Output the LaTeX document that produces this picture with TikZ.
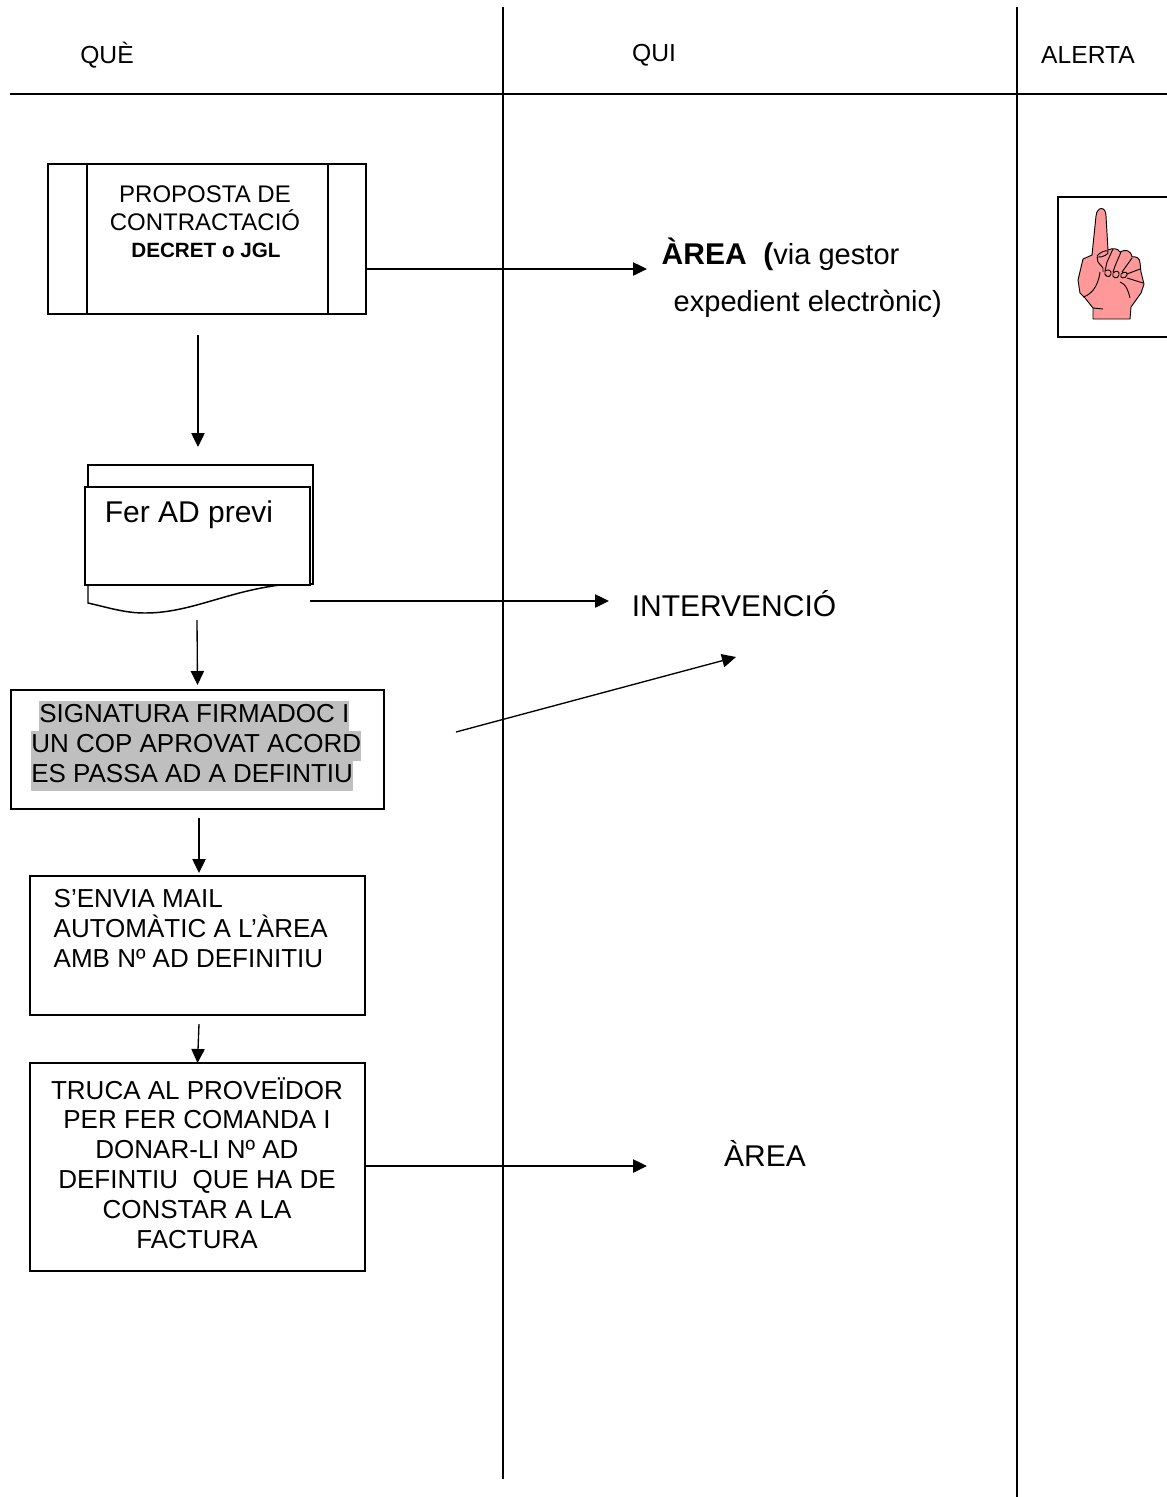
\documentclass[tikz,border=0pt]{standalone}
\usepackage{fontspec}
\setmainfont{Liberation Sans}
\usetikzlibrary{arrows.meta}
\definecolor{handpink}{rgb}{1,0.6,0.6}
\definecolor{markgray}{rgb}{0.75,0.75,0.75}
\tikzset{
  rule/.style={line width=1.3pt},
  boxnode/.style={draw,line width=1.1pt,inner sep=0pt,outer sep=0pt},
  arr/.style={line width=1pt,-{Triangle[length=10.5pt,width=10pt]}},
  markline/.style={anchor=west,fill=markgray,inner sep=0pt,text height=16pt,text depth=6.5pt,font=\fontsize{19.5}{22}\selectfont},
  head/.style={font=\fontsize{18.5}{22}\selectfont},
  steptext/.style={font=\fontsize{19.5}{22.4}\selectfont,align=center},
  bigtext/.style={font=\fontsize{22.5}{26}\selectfont}
}
\begin{document}
\begin{tikzpicture}[x=0.75pt,y=0.75pt,yscale=-1,xscale=1]
\useasboundingbox (0,0) rectangle (1167,1497);

%Straight Lines: table rules
\coordinate (quiTop) at (503,7);
\coordinate (quiEnd) at (503,1479);
\coordinate (alertaTop) at (1017,7);
\coordinate (alertaEnd) at (1017,1497);
\coordinate (headLeft) at (10,94);
\coordinate (headRight) at (1167,94);
\draw [rule] (quiTop) -- (quiEnd);
\draw [rule] (alertaTop) -- (alertaEnd);
\draw [rule] (headLeft) -- (headRight);

% Text Node: heads
\node [head] (que) at (107,55) {QUÈ};
\node [head] (qui) at (654,55) {QUI};
\node [head] (alerta) at (1088,55) {ALERTA};

%Shape: process box
\node [boxnode,minimum width=238.5pt,minimum height=112.5pt] (proposta) at (207,239) {};
\coordinate (barLeftTop) at (87,164);
\coordinate (barLeftEnd) at (87,314);
\coordinate (barRightTop) at (328,164);
\coordinate (barRightEnd) at (328,314);
\draw [line width=1.1pt] (barLeftTop) -- (barLeftEnd);
\draw [line width=1.1pt] (barRightTop) -- (barRightEnd);
\node [align=center,font=\fontsize{18}{21}\selectfont] (propostaText) at (205,208) {PROPOSTA DE\\CONTRACTACIÓ};
\node [font=\fontsize{15.5}{18}\selectfont\bfseries] (decret) at (206,250) {DECRET o JGL};

%Shape: document box
\draw [line width=1.1pt] (88,487) -- (88,465) -- (313,465) -- (313,584) -- (306,584);
\draw [line width=1.1pt] (88,585) -- (88,603) .. controls (110,608) and (125,613) .. (145,613) .. controls (190,613) and (225,592) .. (280,585);
\node [boxnode,fill=white,minimum width=168.75pt,minimum height=73.5pt] (previ) at (197.5,536) {};
\node [bigtext] (previText) at (189,515) {Fer AD previ};

%Shape: signature box
\node [boxnode,minimum width=279.75pt,minimum height=89.25pt] (signatura) at (197.5,749.5) {};
\node [markline] (signaA) at (39,716) {SIGNATURA FIRMADOC I};
\node [markline] (signaB) at (31,746) {UN COP APROVAT ACORD};
\node [markline] (signaC) at (31,776) {ES PASSA AD A DEFINTIU};

%Shape: mail box
\node [boxnode,minimum width=251.25pt,minimum height=104.25pt] (mail) at (197.5,945.5) {};
\node [steptext,align=left,anchor=north west] (mailText) at (49,885) {S’ENVIA MAIL\\AUTOMÀTIC A L’ÀREA\\AMB Nº AD DEFINITIU};

%Shape: provider box
\node [boxnode,minimum width=251.25pt,minimum height=156pt] (truca) at (197.5,1167) {};
\node [steptext] (trucaText) at (197,1163) {TRUCA AL PROVEÏDOR\\PER FER COMANDA I\\DONAR-LI Nº AD\\DEFINTIU\ \ QUE HA DE\\CONSTAR A LA\\FACTURA};

% Text Node: right column
\node [anchor=west,bigtext] (area) at (657,254) {\textbf{ÀREA\ \ (}\fontsize{21.8}{26}\selectfont via gestor};
\node [anchor=west,font=\fontsize{21.8}{26}\selectfont] (expedient) at (669,304) {expedient electrònic)};
\node [bigtext] (intervencio) at (734,604) {INTERVENCIÓ};
\node [bigtext] (areaB) at (765,1153) {ÀREA};

%Straight Lines: arrows
\coordinate (areaIn) at (647,269);
\draw [arr] (proposta.east |- areaIn) -- (areaIn);
\coordinate (downAStart) at (198,335);
\coordinate (downAEnd) at (198,447);
\draw [arr] (downAStart) -- (downAEnd);
\coordinate (interStart) at (310,601);
\coordinate (interIn) at (609,601);
\draw [arr] (interStart) -- (interIn);
\coordinate (downBStart) at (197,620);
\coordinate (downBEnd) at (197.5,685);
\draw [arr] (downBStart) -- (downBEnd);
\coordinate (slantStart) at (456,732);
\coordinate (slantEnd) at (736,657);
\draw [arr] (slantStart) -- (slantEnd);
\coordinate (downCStart) at (199,818);
\coordinate (downCEnd) at (199,873);
\draw [arr] (downCStart) -- (downCEnd);
\coordinate (downDStart) at (199,1024);
\draw [arr] (downDStart) -- (truca.north);
\coordinate (areaBIn) at (647,1166);
\draw [arr] (truca.east |- areaBIn) -- (areaBIn);

%Shape: alert box with hand
\node [boxnode,minimum width=84pt,minimum height=105pt] (alertBox) at (1114,267) {};
\draw [fill=handpink,line width=0.7pt,line join=round]
  (1092,255) -- (1096,216) .. controls (1097,206) and (1106,206) .. (1106,216)
  -- (1108,250) .. controls (1112,248) and (1118,248) .. (1120,252)
  .. controls (1125,249) and (1131,250) .. (1132,257)
  .. controls (1136,256) and (1140,258) .. (1140,263)
  -- (1141,272) -- (1144,284) -- (1141,293) -- (1131,307)
  -- (1130,319) -- (1093,319) -- (1093,308) -- (1085,298) -- (1080,293) -- (1078,280)
  -- (1083,259) -- cycle;
\draw [line width=0.7pt,line join=round]
  (1097,256) .. controls (1100,252) and (1106,250) .. (1108,251) .. controls (1110,254) and (1102,258) .. (1097,257)
  (1097,257) -- (1098,262) -- (1103,268) -- (1103,272)
  (1113,249) -- (1107,262) -- (1105,271)
  (1121,252) -- (1115,266) -- (1113,272)
  (1132,258) -- (1122,272)
  (1105,271) .. controls (1103,276) and (1110,279) .. (1111,274) .. controls (1112,270) and (1108,269) .. (1105,271)
  (1113,273) .. controls (1111,278) and (1118,280) .. (1119,275) .. controls (1120,271) and (1116,270) .. (1113,273)
  (1121,274) .. controls (1119,279) and (1126,279) .. (1127,275) .. controls (1128,272) and (1124,271) .. (1121,274)
  (1127,274) -- (1140,269)
  (1127,278) -- (1143,283)
  (1120,282) .. controls (1126,284) and (1128,290) .. (1130,298)
  (1083,297) .. controls (1090,295) and (1098,288) .. (1100,272)
  (1093,308) -- (1103,309);
\end{tikzpicture}
\end{document}
